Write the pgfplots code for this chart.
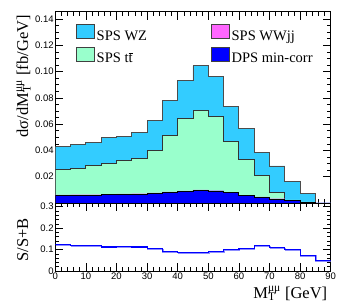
\documentclass[border=0pt]{standalone}
\usepackage{fontspec}
\setmainfont{Liberation Serif}
\newfontfamily\helv{Liberation Sans}
\usepackage{pgfplots}
\usepackage{pgfplotstable}
\pgfplotsset{compat=1.18}
\definecolor{wzc}{RGB}{51,204,255}
\definecolor{ttc}{RGB}{153,255,204}
\definecolor{wwc}{RGB}{255,102,255}
\definecolor{dpsc}{RGB}{0,0,255}
\newcommand\MT{M\makebox[0pt][l]{\textsubscript{T}}\textsuperscript{μμ}}
\pgfplotstableread{
x  wz     tt     ww     dps    r
0  0.0428 0.0253 0.0062 0.0059 0.123
5  0.0447 0.0261 0.0063 0.0060 0.120
10 0.0462 0.0284 0.0063 0.0060 0.119
15 0.0497 0.0304 0.0065 0.0062 0.112
20 0.0507 0.0322 0.0069 0.0066 0.114
25 0.0538 0.0336 0.0071 0.0068 0.112
30 0.0626 0.0402 0.0077 0.0074 0.105
35 0.0782 0.0516 0.0084 0.0081 0.091
40 0.0935 0.0645 0.0092 0.0089 0.088
45 0.1044 0.0704 0.0099 0.0096 0.088
50 0.0962 0.0656 0.0095 0.0092 0.091
55 0.0735 0.0470 0.0081 0.0078 0.102
60 0.0568 0.0332 0.0059 0.0056 0.106
65 0.0388 0.0210 0.0046 0.0043 0.119
70 0.0282 0.0083 0.0033 0.0030 0.109
75 0.0162 0.0023 0.0020 0.0018 0.100
80 0.0074 0.0008 0.0004 0.0003 0.074
85 0      0      0      0      0.050
90 0      0      0      0      0.050
}\data
\begin{document}
\begin{tikzpicture}
\useasboundingbox (0,0) rectangle (349pt,307pt);
\pgfplotsset{
  every axis/.append style={
    scale only axis, width=275.4pt, xmin=0, xmax=90,
    axis line style={line width=0.8pt},
    tick style={black, line width=0.6pt},
    major tick length=8pt, minor tick length=4pt,
    /pgf/number format/assume math mode=true,
    ticklabel style={font=\helv\fontsize{9.5}{10}\selectfont},
    yticklabel style={inner sep=1.5pt},
    xticklabel style={inner sep=1.2pt},
    label style={font=\fontsize{16.5}{18}\selectfont},
    xtick={0,10,20,30,40,50,60,70,80,90}, minor x tick num=4,
    xtick pos=both, ytick pos=both,
  }
}
\begin{axis}[at={(55.3pt,104pt)}, anchor=south west, height=191.3pt,
  ymin=0, ymax=0.1456,
  ytick={0.02,0.04,0.06,0.08,0.10,0.12,0.14}, minor y tick num=3,
  xticklabels={},
  yticklabel style={/pgf/number format/.cd, fixed, precision=2, fixed zerofill},
  ylabel={dσ/d\MT\ [fb/GeV]},
  ylabel style={at={(axis description cs:-0.099,1)}, anchor=base east},
  legend image code/.code={\draw[#1, line width=0.6pt] (0pt,-2.5pt) rectangle (18pt,11.5pt);},
  legend columns=2, legend cell align=left,
  legend style={at={(axis description cs:0.064,0.945)}, anchor=north west, draw=none, fill=none,
    font=\fontsize{14.5}{16}\selectfont, row sep=3pt,
    /tikz/every even column/.append style={column sep=62pt}},
]
\addlegendimage{fill=wzc, draw=black!75}
\addlegendentry{SPS WZ}
\addlegendimage{fill=wwc, draw=black!75}
\addlegendentry{SPS WWjj}
\addlegendimage{fill=ttc, draw=black!75}
\addlegendentry{SPS t$\overline{\mbox{t}}$}
\addlegendimage{fill=dpsc, draw=black!75}
\addlegendentry{DPS min-corr}
\addplot[const plot, fill=wzc, draw=black!70, line width=0.8pt, forget plot] table[x=x,y=wz]{\data} \closedcycle;
\addplot[const plot, fill=ttc, draw=black!80, line width=0.8pt, forget plot] table[x=x,y=tt]{\data} \closedcycle;
\addplot[const plot, fill=wwc, draw=none, forget plot] table[x=x,y=ww]{\data} \closedcycle;
\addplot[const plot, fill=dpsc, draw=black, line width=0.8pt, forget plot] table[x=x,y=dps]{\data} \closedcycle;
\end{axis}
\begin{axis}[at={(55.3pt,36pt)}, anchor=south west, height=68pt,
  ymin=0, ymax=0.317,
  ytick={0,0.1,0.2,0.3}, minor y tick num=4,
  yticklabel style={/pgf/number format/.cd, fixed, precision=1},
  ylabel={S/S+B},
  ylabel style={at={(axis description cs:-0.099,0.456)}, anchor=base},
  xlabel={\MT\ [GeV]},
  xlabel style={at={(axis description cs:1,-0.40)}, anchor=base east},
]
\addplot[const plot, color=blue!45, line width=1.2pt, yshift=-0.9pt, xshift=0.6pt] table[x=x,y=r]{\data};
\addplot[const plot, color=blue, line width=1.2pt] table[x=x,y=r]{\data};
\end{axis}
\end{tikzpicture}
\end{document}
